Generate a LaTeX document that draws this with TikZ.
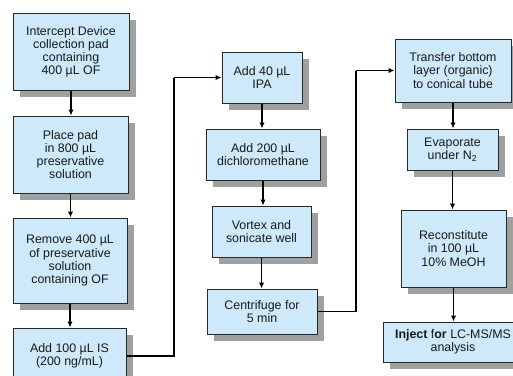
\documentclass[tikz,border=0pt]{standalone}
\usepackage{fontspec}
\setmainfont{Liberation Sans}
\usetikzlibrary{arrows.meta,shadows}
\definecolor{boxfill}{RGB}{205,233,250}
\definecolor{boxline}{RGB}{40,40,40}
\definecolor{shadowgray}{RGB}{160,160,160}
\definecolor{inktext}{RGB}{25,25,25}
\tikzset{
  stepbox/.style={draw=boxline, line width=0.75pt, fill=boxfill, align=center,
    inner sep=0pt, text=inktext, font=\fontsize{9.3}{9.8}\selectfont,
    drop shadow={shadow xshift=5pt, shadow yshift=-5pt, fill=shadowgray, opacity=1}},
  flow/.style={line width=0.8pt, -{Latex[length=4.5pt,width=4pt]}},
  link/.style={line width=0.8pt}
}
\begin{document}
\begin{tikzpicture}[x=0.75pt,y=-0.75pt]
\useasboundingbox (0,0) rectangle (513,375);
\clip (0,0) rectangle (513,375);
\fill[white] (0,0) rectangle (513,375);

% left column
\node[stepbox, minimum width=87pt, minimum height=57.75pt] (b1) at (71,51.5)
  {Intercept Device\\collection pad\\containing\\400 µL OF};
\node[stepbox, minimum width=86.25pt, minimum height=57.75pt] (b2) at (70.5,154.5)
  {Place pad\\in 800 µL\\preservative\\solution};
\node[stepbox, minimum width=85.5pt, minimum height=63.75pt] (b3) at (70,260.5)
  {Remove 400 µL\\of preservative\\solution\\containing OF};
\node[stepbox, minimum width=84.75pt, minimum height=42pt] (b4) at (69.5,356)
  {Add 100 µL IS\\(200 ng/mL)};

% middle column
\node[stepbox, minimum width=60pt, minimum height=38.25pt] (b5) at (262,77.5)
  {Add 40 µL\\IPA};
\node[stepbox, minimum width=85.5pt, minimum height=38.25pt] (b6) at (263,154.5)
  {Add 200 µL\\dichloromethane};
\node[stepbox, minimum width=74.25pt, minimum height=38.25pt] (b7) at (261.5,231.5)
  {Vortex and\\sonicate well};
\node[stepbox, minimum width=82.5pt, minimum height=33.75pt] (b8) at (262,311.5)
  {Centrifuge for\\5 min};

% right column
\node[stepbox, minimum width=87pt, minimum height=47.25pt] (b9) at (453,70.5)
  {Transfer bottom\\layer (organic)\\to conical tube};
\node[stepbox, minimum width=68.25pt, minimum height=30.75pt] (b10) at (452.5,149.5)
  {Evaporate\\under N\textsubscript{2}};
\node[stepbox, minimum width=78.75pt, minimum height=57.75pt] (b11) at (453.5,248.5)
  {Reconstitute\\in 100 µL\\10\% MeOH};
\node[stepbox, minimum width=105pt, minimum height=30pt] (b12) at (453,342)
  {\textbf{Inject} f\textbf{or} LC-MS/MS\\analysis};

% vertical steps
\draw[flow] (b1.south) -- (b1.south |- b2.north);
\draw[flow] (b2.south) -- (b2.south |- b3.north);
\draw[flow] (b3.south) -- (b3.south |- b4.north);
\draw[flow] (b5.south) -- (b5.south |- b6.north);
\draw[flow] (b6.south) -- (b6.south |- b7.north);
\draw[flow] (b7.south) -- (b7.south |- b8.north);
\draw[flow] (b9.south) -- (b9.south |- b10.north);
\draw[flow] (b10.south) -- (b10.south |- b11.north);
\draw[flow] (b11.south) -- (b11.south |- b12.north);

% links between columns
\coordinate (k1) at (174,0);
\coordinate (k2) at (356,0);
\draw[link] (b4.east) -- (b4.east -| k1) -- (k1 |- b5.west);
\draw[flow] (k1 |- b5.west) -- (b5.west);
\draw[link] (b8.east) -- (b8.east -| k2) -- (k2 |- b9.west);
\draw[flow] (k2 |- b9.west) -- (b9.west);
\end{tikzpicture}
\end{document}
